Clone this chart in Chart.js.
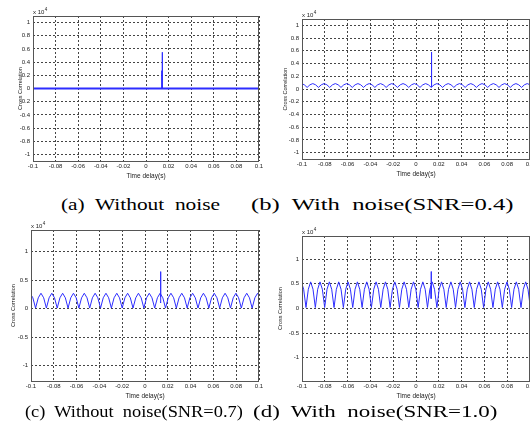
<!DOCTYPE html>
<html>
<head>
<meta charset="utf-8">
<script src="https://cdn.jsdelivr.net/npm/chart.js@4.4.1/dist/chart.umd.min.js"></script>
<style>
  html, body { margin: 0; padding: 0; background: #fff; width: 530px; height: 434px; overflow: hidden; }
  canvas { position: absolute; }
  .cap { position: absolute; font-family: "Liberation Serif", "Times New Roman", serif; font-size: 16px;
         line-height: 20px; white-space: pre; color: #000; transform-origin: 0 50%; }
</style>
</head>
<body>
<canvas id="pa"></canvas>
<canvas id="pb"></canvas>
<canvas id="pc"></canvas>
<canvas id="pd"></canvas>
<div class="cap" data-l="61" data-r="220" style="top:195px">(a)  Without  noise</div>
<div class="cap" data-l="251" data-r="513" style="top:195px">(b)  With  noise(SNR=0.4)</div>
<div class="cap" data-l="25" data-r="243" style="top:402px">(c)  Without  noise(SNR=0.7)</div>
<div class="cap" data-l="253" data-r="497" style="top:402px">(d)  With  noise(SNR=1.0)</div>
<script>
// tick labels
const xTicks = [-0.1, -0.08, -0.06, -0.04, -0.02, 0, 0.02, 0.04, 0.06, 0.08, 0.1];
const xTickLabels = ["-0.1", "-0.08", "-0.06", "-0.04", "-0.02", "0", "0.02", "0.04", "0.06", "0.08", "0.1"];
const yTicksFine = [-1, -0.8, -0.6, -0.4, -0.2, 0, 0.2, 0.4, 0.6, 0.8, 1];
const yLabelsFine = ["-1", "-0.8", "-0.6", "-0.4", "-0.2", "0", "0.2", "0.4", "0.6", "0.8", "1"];
const yTicksCoarse = [-1, -0.5, 0, 0.5, 1];
const yLabelsCoarse = ["-1", "-0.5", "0", "0.5", "1"];

// (a) no noise: flat line + peak (x 10^4)
const sigAx = [-0.1, 0.1];
const sigAy = [0, 0];
const spikeAx = [0.0139, 0.0140, 0.0141, 0.0143, 0.0144, 0.0145];
const spikeAy = [0, 0.27, 0, 0, 0.55, 0];

// (b) SNR=0.4, sampled every dtB from tB0
const tB0 = -0.10045, dtB = 0.002475;
const sigB = [
  0.085,0.066,0.025,0.066, 0.085,0.066,0.025,0.066, 0.085,0.066,0.025,0.066, 0.085,0.066,0.025,0.066,
  0.085,0.066,0.025,0.066, 0.085,0.066,0.025,0.066, 0.085,0.066,0.025,0.066, 0.085,0.066,0.025,0.066,
  0.085,0.066,0.025,0.066, 0.085,0.066,0.025,0.066, 0.085,0.066,0.025,0.066, 0.085,0.066,0.025,0.066,
  0.085,0.066,0.025,0.066, 0.085,0.066,0.025,0.066, 0.085,0.066,0.025,0.066, 0.085,0.066,0.025,0.066,
  0.085,0.066,0.025,0.066, 0.085,0.066,0.025,0.066, 0.085,0.066,0.025,0.066, 0.085,0.066,0.025,0.066,
  0.085,0.066,0.025
];
const spikeBx = [0.0134, 0.0135, 0.0136, 0.0137, 0.0138];
const spikeBy = [0.03, 0.30, 0.03, 0.58, 0.04];

// (c) SNR=0.7
const tC0 = -0.10075, dtC = 0.002375;
const sigC = [
  0.27,0.19,0.01,0.19, 0.27,0.19,0.01,0.19, 0.27,0.19,0.01,0.19, 0.27,0.19,0.01,0.19,
  0.27,0.19,0.01,0.19, 0.27,0.19,0.01,0.19, 0.27,0.19,0.01,0.19, 0.27,0.19,0.01,0.19,
  0.27,0.19,0.01,0.19, 0.27,0.19,0.01,0.19, 0.27,0.19,0.01,0.19, 0.27,0.19,0.01,0.19,
  0.27,0.19,0.01,0.19, 0.27,0.19,0.01,0.19, 0.27,0.19,0.01,0.19, 0.27,0.19,0.01,0.19,
  0.27,0.19,0.01,0.19, 0.27,0.19,0.01,0.19, 0.27,0.19,0.01,0.19, 0.27,0.19,0.01,0.19,
  0.27,0.19,0.01,0.19, 0.27,0.19
];
const spikeCx = [0.0135, 0.0136, 0.0137, 0.0138, 0.0139];
const spikeCy = [0.12, 0.40, 0.10, 0.65, 0.20];

// (d) SNR=1.0
const tD0 = -0.1006, dtD = 0.00205;
const sigD = [
  0.54,0.39,0.02,0.39, 0.54,0.39,0.02,0.39, 0.54,0.39,0.02,0.39, 0.54,0.39,0.02,0.39,
  0.54,0.39,0.02,0.39, 0.54,0.39,0.02,0.39, 0.54,0.39,0.02,0.39, 0.54,0.39,0.02,0.39,
  0.54,0.39,0.02,0.39, 0.54,0.39,0.02,0.39, 0.54,0.39,0.02,0.39, 0.54,0.39,0.02,0.39,
  0.54,0.39,0.02,0.39, 0.54,0.39,0.02,0.39, 0.54,0.39,0.02,0.39, 0.54,0.39,0.02,0.39,
  0.54,0.39,0.02,0.39, 0.54,0.39,0.02,0.39, 0.54,0.39,0.02,0.39, 0.54,0.39,0.02,0.39,
  0.54,0.39,0.02,0.39, 0.54,0.39,0.02,0.39, 0.54,0.39,0.02,0.39, 0.54,0.39,0.02,0.39,
  0.54,0.39,0.02
];
const spikeDx = [0.0131, 0.0132, 0.0133, 0.0134, 0.0135];
const spikeDy = [0.2, 0.45, 0.2, 0.75, 0.3];

const FONT = "'Liberation Sans', Arial, sans-serif";
const BLUE = "rgb(45,45,255)";
const X_AXIS_H = 20;

const pts = (xs, ys) => ys.map((y, i) => ({ x: xs[i], y }));
const sampled = (t0, dt, ys) => ys.map((y, i) => ({ x: t0 + i * dt, y }));

// stretch captions to their measured span
document.querySelectorAll(".cap").forEach(el => {
  const l = +el.dataset.l, r = +el.dataset.r;
  el.style.left = l + "px";
  el.style.transform = "scaleX(" + ((r - l) / el.offsetWidth).toFixed(3) + ")";
});

// box + "x 10^4" marker
const boxPlugin = {
  id: "box",
  afterDraw(chart) {
    const { ctx, chartArea: a } = chart;
    ctx.save();
    ctx.strokeStyle = "#555";
    ctx.lineWidth = 1;
    ctx.strokeRect(Math.round(a.left) + 0.5, Math.round(a.top) + 0.5,
      Math.round(a.right - a.left) - 1, Math.round(a.bottom - a.top));
    ctx.fillStyle = "#222";
    ctx.font = "6px " + FONT;
    ctx.textBaseline = "alphabetic";
    const base = a.top - 2.5;
    ctx.fillText("x 10", a.left, base);
    const w = ctx.measureText("x 10").width;
    ctx.font = "4.5px " + FONT;
    ctx.fillText("4", a.left + w + 0.5, base - 3);
    ctx.restore();
  }
};

function panel(id, p) {
  const cv = document.getElementById(id);
  const ct = p.top - 12;
  const cw = p.right + p.padR - p.cl;
  const ch = p.bottom - ct + X_AXIS_H + 4;
  cv.width = cw; cv.height = ch;
  cv.style.left = p.cl + "px"; cv.style.top = ct + "px";
  cv.style.width = cw + "px"; cv.style.height = ch + "px";

  new Chart(cv, {
    type: "line",
    data: {
      datasets: [
        { data: p.signal, borderColor: BLUE, borderWidth: p.lw, pointRadius: 0, tension: 0 },
        { data: p.spike, borderColor: BLUE, borderWidth: 1, pointRadius: 0, tension: 0 }
      ]
    },
    options: {
      responsive: false,
      animation: false,
      events: [],
      layout: { padding: { left: 0, top: 12, right: p.padR, bottom: 4 } },
      plugins: { legend: { display: false }, tooltip: { enabled: false } },
      scales: {
        x: {
          type: "linear", min: -0.1, max: 0.1,
          afterBuildTicks: s => { s.ticks = xTicks.map(v => ({ value: v })); },
          afterFit: s => { s.height = X_AXIS_H; },
          ticks: { callback: (v, i) => xTickLabels[i], font: { family: FONT, size: 6 }, color: "#222",
                   padding: 2, maxRotation: 0, autoSkip: false },
          grid: { color: "#444", drawTicks: false, lineWidth: 1 },
          border: { display: false, dash: [2, 2] },
          title: { display: true, text: "Time delay(s)", font: { family: FONT, size: 6.5, lineHeight: 1.2 },
                   color: "#222", padding: { top: 0, bottom: 1 } }
        },
        y: {
          type: "linear", min: p.yMin, max: p.yMax,
          afterBuildTicks: s => { s.ticks = p.yTicks.map(v => ({ value: v })); },
          afterFit: s => { s.width = p.left - p.cl; },
          ticks: { callback: (v, i) => p.yLabels[i], font: { family: FONT, size: 6 }, color: "#222", padding: 3 },
          grid: { color: "#444", drawTicks: false, lineWidth: 1 },
          border: { display: false, dash: [2, 2] },
          title: { display: true, text: "Cross Correlation", font: { family: FONT, size: 5.5, lineHeight: 1.2 },
                   color: "#222", padding: { top: p.titlePad, bottom: 0 } }
        }
      }
    },
    plugins: [boxPlugin]
  });
}

panel("pa", { cl: 0, left: 33, top: 16, right: 259, bottom: 161, padR: 8, yMin: -1.1, yMax: 1.1,
  yTicks: yTicksFine, yLabels: yLabelsFine, titlePad: 17.5, lw: 2,
  signal: pts(sigAx, sigAy), spike: pts(spikeAx, spikeAy) });
panel("pb", { cl: 268, left: 302, top: 18.5, right: 530, bottom: 158.5, padR: 15, yMin: -1.1, yMax: 1.1,
  yTicks: yTicksFine, yLabels: yLabelsFine, titlePad: 13.7, lw: 1,
  signal: sampled(tB0, dtB, sigB), spike: pts(spikeBx, spikeBy) });
panel("pc", { cl: 0, left: 31, top: 230, right: 259, bottom: 381, padR: 8, yMin: -1.27, yMax: 1.38,
  yTicks: yTicksCoarse, yLabels: yLabelsCoarse, titlePad: 10.5, lw: 1,
  signal: sampled(tC0, dtC, sigC), spike: pts(spikeCx, spikeCy) });
panel("pd", { cl: 268, left: 302, top: 236, right: 530, bottom: 381, padR: 15, yMin: -1.47, yMax: 1.47,
  yTicks: yTicksCoarse, yLabels: yLabelsCoarse, titlePad: 8.7, lw: 1,
  signal: sampled(tD0, dtD, sigD), spike: pts(spikeDx, spikeDy) });
</script>
</body>
</html>
